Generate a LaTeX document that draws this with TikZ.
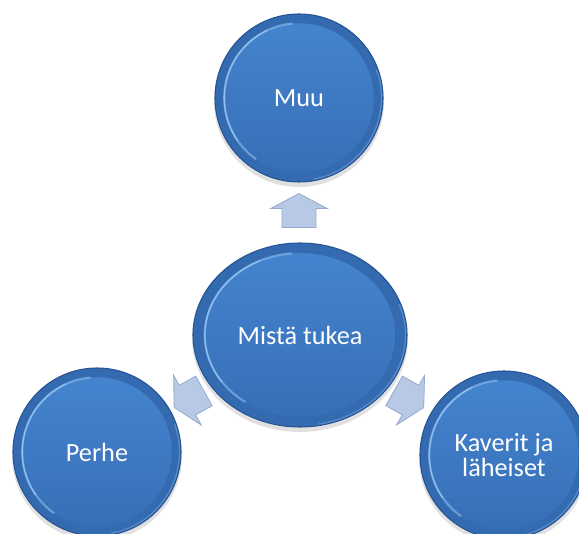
\documentclass[tikz,border=0pt]{standalone}
\usepackage{fontspec}
\setmainfont{Carlito}
\usetikzlibrary{shapes.geometric,shapes.arrows,backgrounds,calc}
\definecolor{discedge}{RGB}{38,84,146}
\definecolor{discout}{RGB}{52,106,176}
\definecolor{discintop}{RGB}{68,132,206}
\definecolor{discinbot}{RGB}{55,111,182}
\definecolor{hl}{RGB}{150,198,245}
\definecolor{arrowfill}{RGB}{184,201,230}
\definecolor{arrowedge}{RGB}{148,170,208}
\newcommand\drawdisc[3]{%
  \fill[black,opacity=0.12] ($(#1.center)+(0,4)$) ellipse ({#2+1} and {#3+1});
  \fill[discout,draw=discedge,line width=0.8pt] (#1.center) ellipse ({#2} and {#3});
  \shade[top color=discintop,bottom color=discinbot] (#1.center) ellipse ({0.89*#2} and {0.89*#3});
  \begin{scope}[shift={(#1.center)},x=0.75pt,y=0.75pt]
    \draw[hl,line width=1.6pt,opacity=0.55] (95:{0.89*#2} and {0.89*#3}) arc[start angle=95,end angle=235,x radius={0.89*#2},y radius={0.89*#3}];
    \draw[hl,line width=0.8pt,opacity=0.9] (115:{0.89*#2} and {0.89*#3}) arc[start angle=115,end angle=215,x radius={0.89*#2},y radius={0.89*#3}];
    \draw[hl,line width=1pt,opacity=0.35] (-80:{#2-1.5} and {#3-1.5}) arc[start angle=-80,end angle=20,x radius={#2-1.5},y radius={#3-1.5}];
  \end{scope}
}
\begin{document}
\begin{tikzpicture}[x=0.75pt,y=-0.75pt,
  disclabel/.style={text=white,font=\fontsize{19.7}{19}\selectfont,align=center,inner sep=0pt},
  spoke/.style={single arrow, draw=arrowedge, fill=arrowfill, line width=0.6pt,
    minimum height=25.5pt, minimum width=42pt, single arrow head extend=8.6pt,
    single arrow tip angle=124, inner xsep=0pt, inner ysep=12.4pt, line join=miter}]
\useasboundingbox (0,0) rectangle (579,534);
\node[disclabel] (muu) at (299,98) {Muu};
\node[disclabel] (center) at (300,335) {Mistä tukea};
\node[disclabel] (perhe) at (97,452) {Perhe};
\node[disclabel] (kaverit) at (504,455) {Kaverit ja\\läheiset};
\begin{pgfonlayer}{background}
  \drawdisc{muu}{84}{84}
  \drawdisc{center}{107}{92}
  \drawdisc{perhe}{84}{84}
  \drawdisc{kaverit}{84}{84}
\end{pgfonlayer}
\node[spoke,rotate=90] (a1) at (299,215) {};
\node[spoke,rotate=-151] (a2) at (193,397) {};
\node[spoke,rotate=-29.5] (a3) at (405,397) {};
\end{tikzpicture}
\end{document}
